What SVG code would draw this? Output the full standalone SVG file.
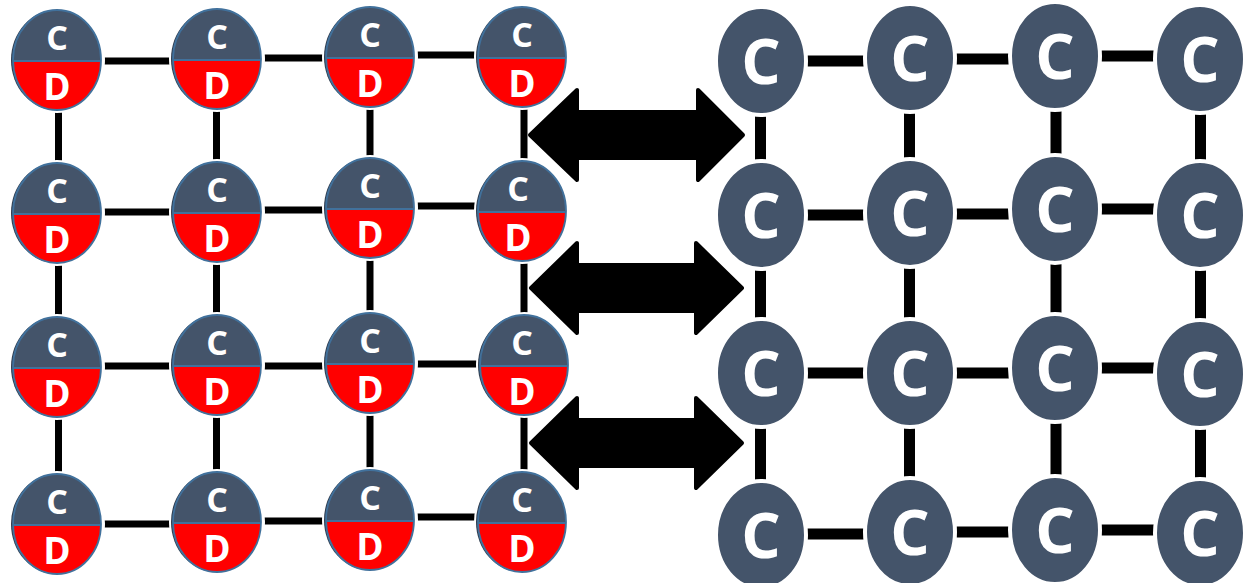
<svg xmlns="http://www.w3.org/2000/svg" width="1243" height="583" viewBox="0 0 1243 583">
<defs>
<style>
.lh{stroke:#000;stroke-width:7;}
.rh{stroke:#000;stroke-width:11;}
.top{fill:#44546A;}
.bot{fill:#FF0000;}
.rim{fill:none;stroke:#41719C;stroke-width:1.8;}
.div{stroke:#41719C;stroke-width:2.2;}
.gap{fill:#fff;}
.lt{font-family:"Open Sans","DejaVu Sans",sans-serif;font-weight:bold;fill:#fff;text-anchor:middle;}
.cl{font-size:34px;}
.dl{font-size:37px;}
.rn{fill:#44546A;stroke:#fff;stroke-width:4;}
.rc{font-size:62px;}
.arr{fill:#000;stroke:#000;stroke-width:4;stroke-linejoin:round;}
</style>
<clipPath id="ct"><rect x="-60" y="-60" width="120" height="61"/></clipPath>
<clipPath id="cb"><rect x="-60" y="1" width="120" height="60"/></clipPath>
<g id="lnode">
<ellipse cx="0" cy="0" rx="48" ry="53" class="gap"/>
<ellipse cx="-1" cy="0" rx="45" ry="50" fill="#2F3B4D"/>
<ellipse cx="0" cy="0" rx="44" ry="50" class="top" clip-path="url(#ct)"/>
<ellipse cx="0" cy="0" rx="44" ry="50" class="bot" clip-path="url(#cb)"/>
<line x1="-44" y1="1" x2="44" y2="1" class="div"/>
<ellipse cx="0" cy="0" rx="44" ry="50" class="rim"/>
</g>
</defs>
<g id="connectors">
<!-- left horizontals -->
<line class="lh" x1="57" y1="61" x2="217" y2="61"/>
<line class="lh" x1="217" y1="58" x2="370" y2="58"/>
<line class="lh" x1="370" y1="55" x2="522" y2="55"/>
<line class="lh" x1="57" y1="212" x2="217" y2="212"/>
<line class="lh" x1="217" y1="210" x2="370" y2="210"/>
<line class="lh" x1="370" y1="206" x2="522" y2="206"/>
<line class="lh" x1="57" y1="366" x2="217" y2="366"/>
<line class="lh" x1="217" y1="366" x2="370" y2="366"/>
<line class="lh" x1="370" y1="364" x2="522" y2="364"/>
<line class="lh" x1="57" y1="524" x2="217" y2="524"/>
<line class="lh" x1="217" y1="521" x2="370" y2="521"/>
<line class="lh" x1="370" y1="517" x2="522" y2="517"/>
<!-- left verticals -->
<line class="lh" x1="58.5" y1="60" x2="58.5" y2="524"/>
<line class="lh" x1="216.5" y1="59" x2="216.5" y2="522"/>
<line class="lh" x1="370" y1="57" x2="370" y2="520"/>
<line class="lh" x1="524" y1="57" x2="524" y2="522"/>
<!-- right horizontals -->
<line class="rh" x1="761" y1="61" x2="910" y2="61"/>
<line class="rh" x1="910" y1="59" x2="1055" y2="59"/>
<line class="rh" x1="1055" y1="56" x2="1200" y2="56"/>
<line class="rh" x1="761" y1="215" x2="910" y2="215"/>
<line class="rh" x1="910" y1="214" x2="1055" y2="214"/>
<line class="rh" x1="1055" y1="209" x2="1200" y2="209"/>
<line class="rh" x1="761" y1="373" x2="910" y2="373"/>
<line class="rh" x1="910" y1="373" x2="1055" y2="373"/>
<line class="rh" x1="1055" y1="368" x2="1200" y2="368"/>
<line class="rh" x1="761" y1="534" x2="910" y2="534"/>
<line class="rh" x1="910" y1="532" x2="1055" y2="532"/>
<line class="rh" x1="1055" y1="530" x2="1200" y2="530"/>
<!-- right verticals -->
<line class="rh" x1="760.5" y1="61" x2="760.5" y2="535"/>
<line class="rh" x1="909.5" y1="58" x2="909.5" y2="532"/>
<line class="rh" x1="1056" y1="56" x2="1056" y2="530"/>
<line class="rh" x1="1200.5" y1="59" x2="1200.5" y2="533"/>
<!-- double arrows -->
<path class="arr" d="M530,135 L577,90 L577,112 L698,112 L698,90 L743,135 L698,180 L698,158 L577,158 L577,180 Z"/>
<path class="arr" d="M531,288 L577,243 L577,265 L696,265 L696,243 L742,288 L696,333 L696,311 L577,311 L577,333 Z"/>
<path class="arr" d="M531,443 L577,398 L577,420 L696,420 L696,398 L742,443 L696,488 L696,466 L577,466 L577,488 Z"/>
</g>
<!-- left nodes -->
<g id="L11"><use href="#lnode" x="57" y="60"/><text class="lt cl" x="57" y="50">C</text><text class="lt dl" x="57" y="100">D</text></g>
<g id="L12"><use href="#lnode" x="217" y="59"/><text class="lt cl" x="217" y="49">C</text><text class="lt dl" x="217" y="99">D</text></g>
<g id="L13"><use href="#lnode" x="370" y="57"/><text class="lt cl" x="370" y="47">C</text><text class="lt dl" x="370" y="97">D</text></g>
<g id="L14"><use href="#lnode" x="522" y="57"/><text class="lt cl" x="522" y="47">C</text><text class="lt dl" x="522" y="97">D</text></g>
<g id="L21"><use href="#lnode" x="57" y="213"/><text class="lt cl" x="57" y="203">C</text><text class="lt dl" x="57" y="253">D</text></g>
<g id="L22"><use href="#lnode" x="217" y="212"/><text class="lt cl" x="217" y="202">C</text><text class="lt dl" x="217" y="252">D</text></g>
<g id="L23"><use href="#lnode" x="370" y="208"/><text class="lt cl" x="370" y="198">C</text><text class="lt dl" x="370" y="248">D</text></g>
<g id="L24"><use href="#lnode" x="522" y="211"/><text class="lt cl" x="518" y="201">C</text><text class="lt dl" x="518" y="251">D</text></g>
<g id="L31"><use href="#lnode" x="57" y="367"/><text class="lt cl" x="57" y="357">C</text><text class="lt dl" x="57" y="407">D</text></g>
<g id="L32"><use href="#lnode" x="217" y="365"/><text class="lt cl" x="217" y="355">C</text><text class="lt dl" x="217" y="405">D</text></g>
<g id="L33"><use href="#lnode" x="370" y="363"/><text class="lt cl" x="370" y="353">C</text><text class="lt dl" x="370" y="403">D</text></g>
<g id="L34"><use href="#lnode" x="524" y="365"/><text class="lt cl" x="522" y="355">C</text><text class="lt dl" x="522" y="405">D</text></g>
<g id="L41"><use href="#lnode" x="57" y="524"/><text class="lt cl" x="57" y="514">C</text><text class="lt dl" x="57" y="564">D</text></g>
<g id="L42"><use href="#lnode" x="217" y="522"/><text class="lt cl" x="217" y="512">C</text><text class="lt dl" x="217" y="562">D</text></g>
<g id="L43"><use href="#lnode" x="370" y="520"/><text class="lt cl" x="370" y="510">C</text><text class="lt dl" x="370" y="560">D</text></g>
<g id="L44"><use href="#lnode" x="522" y="522"/><text class="lt cl" x="522" y="512">C</text><text class="lt dl" x="522" y="562">D</text></g>
<!-- right nodes -->
<g id="R11"><ellipse class="rn" cx="761" cy="61" rx="45" ry="54"/><text class="lt rc" x="761" y="84">C</text></g>
<g id="R12"><ellipse class="rn" cx="910" cy="58" rx="45" ry="54"/><text class="lt rc" x="910" y="81">C</text></g>
<g id="R13"><ellipse class="rn" cx="1055" cy="56" rx="45" ry="54"/><text class="lt rc" x="1055" y="79">C</text></g>
<g id="R14"><ellipse class="rn" cx="1200" cy="59" rx="45" ry="54"/><text class="lt rc" x="1200" y="82">C</text></g>
<g id="R21"><ellipse class="rn" cx="761" cy="215" rx="45" ry="54"/><text class="lt rc" x="761" y="238">C</text></g>
<g id="R22"><ellipse class="rn" cx="910" cy="213" rx="45" ry="54"/><text class="lt rc" x="910" y="236">C</text></g>
<g id="R23"><ellipse class="rn" cx="1055" cy="209" rx="45" ry="54"/><text class="lt rc" x="1055" y="232">C</text></g>
<g id="R24"><ellipse class="rn" cx="1200" cy="215" rx="45" ry="54"/><text class="lt rc" x="1200" y="238">C</text></g>
<g id="R31"><ellipse class="rn" cx="761" cy="373" rx="45" ry="54"/><text class="lt rc" x="761" y="396">C</text></g>
<g id="R32"><ellipse class="rn" cx="910" cy="373" rx="45" ry="54"/><text class="lt rc" x="910" y="396">C</text></g>
<g id="R33"><ellipse class="rn" cx="1055" cy="368" rx="45" ry="54"/><text class="lt rc" x="1055" y="391">C</text></g>
<g id="R34"><ellipse class="rn" cx="1200" cy="374" rx="45" ry="54"/><text class="lt rc" x="1200" y="397">C</text></g>
<g id="R41"><ellipse class="rn" cx="761" cy="535" rx="45" ry="54"/><text class="lt rc" x="761" y="558">C</text></g>
<g id="R42"><ellipse class="rn" cx="910" cy="532" rx="45" ry="54"/><text class="lt rc" x="910" y="555">C</text></g>
<g id="R43"><ellipse class="rn" cx="1055" cy="530" rx="45" ry="54"/><text class="lt rc" x="1055" y="553">C</text></g>
<g id="R44"><ellipse class="rn" cx="1200" cy="533" rx="45" ry="54"/><text class="lt rc" x="1200" y="556">C</text></g>
</svg>
